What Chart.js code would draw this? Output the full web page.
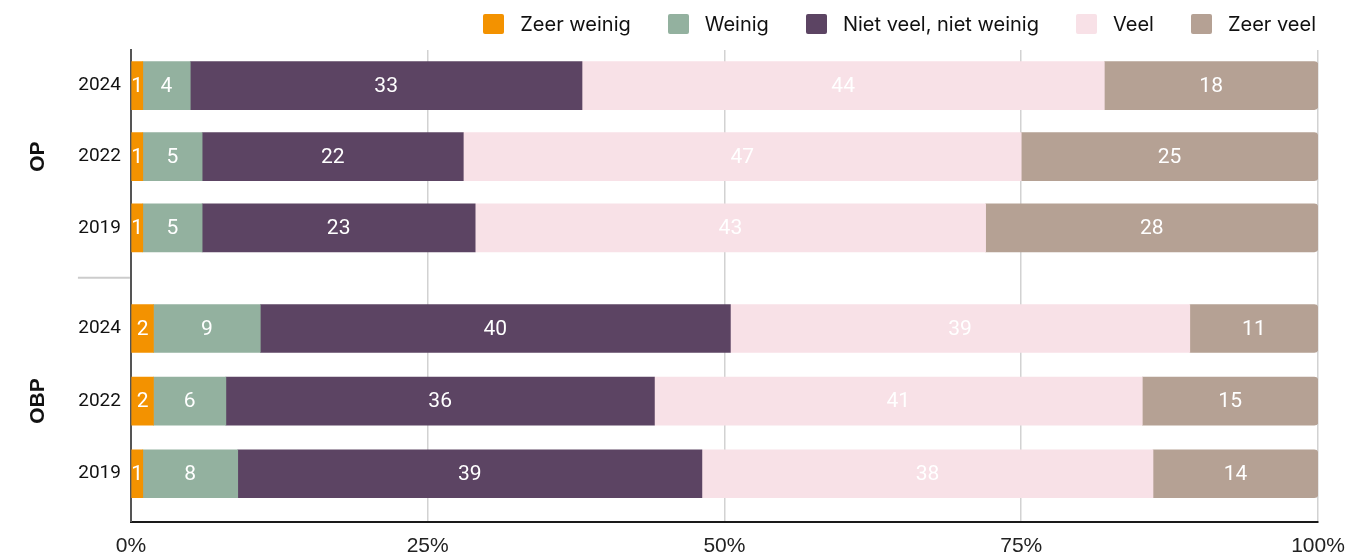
<!DOCTYPE html>
<html><head><meta charset="utf-8">
<script src="https://cdn.jsdelivr.net/npm/chart.js@4/dist/chart.umd.min.js"></script>
<style>
html,body{margin:0;padding:0;background:#fff;}
#wrap{position:relative;width:1348px;height:556px;}
#legend{position:absolute;top:14px;right:32px;display:flex;align-items:center;font-family:Inter,Roboto,sans-serif;font-size:20px;color:#111;line-height:20px;}
.item{display:flex;align-items:center;margin-left:37px;}
.item:first-child{margin-left:0;}
.sw{width:21px;height:20px;border-radius:2px;margin-right:16px;}
</style></head><body>
<div id="wrap"><canvas id="c"></canvas><div id="legend"></div></div>
<script>
// Categories (answer options) and colours
const categories = ['Zeer weinig', 'Weinig', 'Niet veel, niet weinig', 'Veel', 'Zeer veel'];
const colors = ['#F39200', '#93B19F', '#5C4463', '#F8E1E7', '#B5A194'];
const years = ['2024', '2022', '2019'];
const groupLabels = ['OP', 'OBP'];
const xTicks = [0, 25, 50, 75, 100];

// OP values (%), rows: 2024, 2022, 2019
const opZeerWeinig = [1.0, 1.0, 1.0];
const opWeinig     = [4.0, 5.0, 5.0];
const opNietVeel   = [33.0, 22.0, 23.0];
const opVeel       = [44.0, 47.0, 43.0];
const opZeerVeel   = [18.0, 25.0, 28.0];

// OBP values (%), rows: 2024, 2022, 2019
const obpZeerWeinig = [1.9, 1.9, 1.0];
const obpWeinig     = [9.0, 6.1, 8.0];
const obpNietVeel   = [39.6, 36.1, 39.1];
const obpVeel       = [38.7, 41.1, 38.0];
const obpZeerVeel   = [10.8, 14.8, 13.9];

const opSeries = [opZeerWeinig, opWeinig, opNietVeel, opVeel, opZeerVeel];
const obpSeries = [obpZeerWeinig, obpWeinig, obpNietVeel, obpVeel, obpZeerVeel];

// HTML legend built from the arrays
const legendEl = document.getElementById('legend');
categories.forEach((c, i) => {
  const it = document.createElement('div'); it.className = 'item';
  const sw = document.createElement('span'); sw.className = 'sw'; sw.style.background = colors[i];
  const tx = document.createElement('span'); tx.textContent = c;
  it.appendChild(sw); it.appendChild(tx); legendEl.appendChild(it);
});

function makeDataset(label, data, i, axis) {
  const last = i === categories.length - 1;
  return {
    label: label, data: data, backgroundColor: colors[i], yAxisID: axis, xAxisID: 'x',
    stack: 'all', grouped: false,
    barThickness: 48, maxBarThickness: 48, borderWidth: 0,
    borderSkipped: false,
    borderRadius: last ? {topLeft: 0, bottomLeft: 0, topRight: 4, bottomRight: 4} : 0
  };
}
const datasets = [];
categories.forEach((c, i) => datasets.push(makeDataset(c, opSeries[i], i, 'yOP')));
categories.forEach((c, i) => datasets.push(makeDataset(c, obpSeries[i], i, 'yOBP')));

const valueLabels = {
  id: 'valueLabels',
  afterDatasetsDraw(chart) {
    const ctx = chart.ctx;
    ctx.save();
    ctx.font = '21px Roboto';
    ctx.fillStyle = '#ffffff';
    ctx.textAlign = 'center';
    ctx.textBaseline = 'middle';
    chart.data.datasets.forEach((ds, i) => {
      const meta = chart.getDatasetMeta(i);
      meta.data.forEach((el, j) => {
        const p = el.getCenterPoint();
        ctx.fillText(String(Math.round(ds.data[j])), p.x, p.y + 1);
      });
    });
    ctx.restore();
  }
};
const groupSeparator = {
  id: 'groupSeparator',
  afterDraw(chart) {
    const g = chart.scales.yGap;
    const y = (g.top + g.bottom) / 2;
    const ctx = chart.ctx;
    ctx.save();
    ctx.strokeStyle = '#cccccc';
    ctx.lineWidth = 2;
    ctx.beginPath();
    ctx.moveTo(chart.chartArea.left - 53, y);
    ctx.lineTo(chart.chartArea.left - 1, y);
    ctx.stroke();
    ctx.restore();
  }
};

const yBase = {
  type: 'category', position: 'left', stack: 'rows', offset: true, stacked: true,
  grid: {display: false, drawTicks: false},
  border: {display: true, color: '#555555', width: 2},
  ticks: {font: {family: 'Roboto', size: 19}, color: '#111111', padding: 10}
};
const titleBase = {display: true, font: {family: 'Liberation Sans', weight: 'bold', size: 21}, color: '#111111', padding: {top: 0, bottom: 17}};

new Chart(document.getElementById('c'), {
  type: 'bar',
  data: {datasets: datasets},
  options: {
    indexAxis: 'y',
    responsive: true, maintainAspectRatio: false, animation: false,
    layout: {padding: {left: 26, right: 30, top: 50, bottom: -15}},
    plugins: {legend: {display: false}, tooltip: {enabled: false}},
    scales: {
      x: {
        type: 'linear', position: 'bottom', stacked: true, min: 0, max: 100,
        afterBuildTicks: (s) => { s.ticks = xTicks.map(v => ({value: v})); },
        afterFit: (s) => { s.paddingRight = 0; s.paddingLeft = 0; },
        grid: {color: '#d2d2d2', lineWidth: 1.5, drawTicks: false},
        border: {display: true, color: '#1a1a1a', width: 2},
        ticks: {font: {family: 'Liberation Sans', size: 21}, color: '#222222', padding: 12, callback: v => v + '%'}
      },
      yOP: Object.assign({}, yBase, {labels: years, weight: 4, stackWeight: 213, title: Object.assign({}, titleBase, {text: groupLabels[0]})}),
      yGap: Object.assign({}, yBase, {labels: [''], weight: 3, stackWeight: 28.75, ticks: {display: false}}),
      yOBP: Object.assign({}, yBase, {labels: years, weight: 2, stackWeight: 217.5, title: Object.assign({}, titleBase, {text: groupLabels[1]})}),
      yBot: Object.assign({}, yBase, {labels: [''], weight: 1, stackWeight: 11.75, ticks: {display: false}})
    }
  },
  plugins: [valueLabels, groupSeparator]
});
</script>
</body></html>
